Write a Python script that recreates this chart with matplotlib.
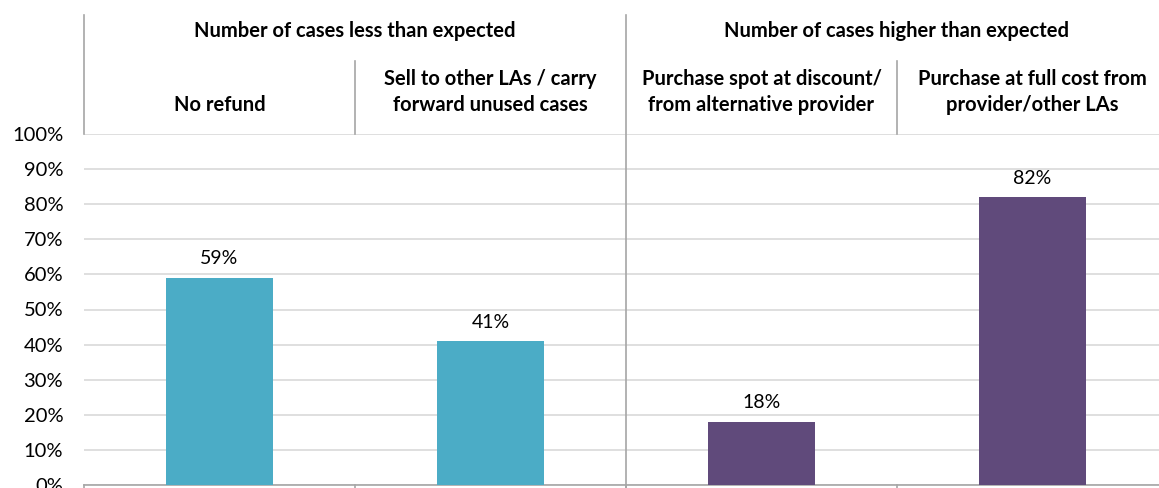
import matplotlib
matplotlib.use("Agg")
import matplotlib.pyplot as plt
import matplotlib.transforms as mtransforms

categories = ["No refund",
              "Sell to other LAs / carry\nforward unused cases",
              "Purchase spot at discount/\nfrom alternative provider",
              "Purchase at full cost from\nprovider/other LAs"]
values = [59, 41, 18, 82]
groups = ["Number of cases less than expected", "Number of cases higher than expected"]
group_sizes = [2, 2]
colors = ["#4BACC6", "#4BACC6", "#604A7B", "#604A7B"]
yticks = [0, 10, 20, 30, 40, 50, 60, 70, 80, 90, 100]

plt.rcParams['font.family'] = ['Lato', 'DejaVu Sans']

W, H = 1159, 488
fig = plt.figure(figsize=(W / 100, H / 100), dpi=100)
left_px, right_px, top_px, bot_px = 84, 1168, 134, 485
ax = fig.add_axes([left_px / W, 1 - bot_px / H, (right_px - left_px) / W, (bot_px - top_px) / H])

x = list(range(len(categories)))
ax.bar(x, values, width=0.395, color=colors, zorder=3)
for xi, v in zip(x, values):
    ax.text(xi, v + 3.0, f"{v}%", ha="center", va="bottom", fontsize=14, color="#000000")

ax.set_xlim(-0.5, len(categories) - 0.5)
ax.set_ylim(0, 100)
ax.set_yticks(yticks)
ax.set_yticklabels([f"{t}%" for t in yticks], fontsize=14.5)
ax.tick_params(axis="y", length=0, pad=15)
ax.set_xticks([])
for s in ["left", "right", "top"]:
    ax.spines[s].set_visible(False)
ax.spines["bottom"].set_color("#A6A6A6")
ax.spines["bottom"].set_linewidth(1.2)
ax.yaxis.grid(True, color="#D9D9D9", linewidth=1.2, zorder=0)
ax.set_axisbelow(True)

tr = mtransforms.blended_transform_factory(ax.transData, ax.transAxes)
line_c = "#A6A6A6"
boundaries = [i - 0.5 for i in range(len(categories) + 1)]
group_edges = [-0.5]
for g in group_sizes:
    group_edges.append(group_edges[-1] + g)
for b in boundaries:
    if b in group_edges:
        if b == group_edges[0] or b == group_edges[-1]:
            ax.plot([b, b], [1.0, 1.339], transform=tr, color=line_c, lw=1.2, clip_on=False)
        else:
            ax.plot([b, b], [-0.03, 1.339], transform=tr, color=line_c, lw=1.2, clip_on=False, zorder=4)
    else:
        ax.plot([b, b], [1.0, 1.208], transform=tr, color=line_c, lw=1.2, clip_on=False)
    ax.plot([b, b], [-0.03, 0], transform=tr, color=line_c, lw=1.2, clip_on=False)

for gi, g in enumerate(groups):
    cx = (group_edges[gi] + group_edges[gi + 1]) / 2
    ax.text(cx, 1.293, g, transform=tr, ha="center", va="center", fontsize=14.5,
            fontweight="bold", clip_on=False)
for xi, c in zip(x, categories):
    ax.text(xi, 1.054, c, transform=tr, ha="center", va="bottom", fontsize=14.5,
            fontweight="bold", linespacing=1.4, clip_on=False)

fig.savefig("out.png", dpi=100)
